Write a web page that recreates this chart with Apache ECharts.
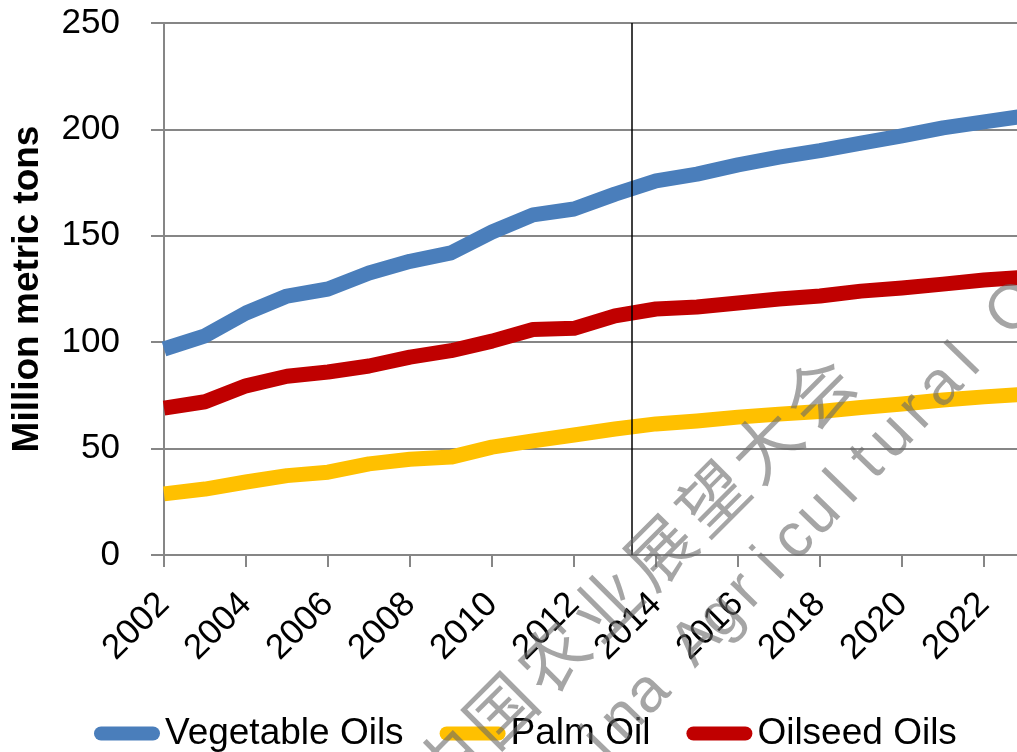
<!DOCTYPE html>
<html>
<head>
  <meta charset="UTF-8">
  <title>oils</title>
  <style>
    html, body { margin: 0; padding: 0; background: #fff; }
    #main { width: 1017px; height: 752px; }
  </style>
  <script src="https://cdn.jsdelivr.net/npm/echarts@6/dist/echarts.min.js"></script>
</head>
<body>
<div id="main"></div>
<script type="text/javascript">
  // data
  const years = [2002, 2003, 2004, 2005, 2006, 2007, 2008, 2009, 2010, 2011, 2012,
    2013, 2014, 2015, 2016, 2017, 2018, 2019, 2020, 2021, 2022, 2023];
  const vegetableOils = [96.8, 103, 113.7, 121.7, 125, 132.5, 138, 142, 151.8, 159.8, 162.6,
    169.6, 175.8, 179, 183.3, 187, 190, 193.6, 197, 200.7, 203.5, 206.3];
  const palmOil = [28.7, 31, 34.3, 37.3, 38.9, 42.8, 45, 46, 50.7, 53.6, 56.4,
    59.2, 61.6, 63, 64.8, 66.2, 67.4, 69.3, 71, 72.8, 74.3, 75.6];
  const oilseedOils = [69, 72, 79.5, 84, 86, 88.8, 93, 96, 100.5, 106, 106.5,
    112.4, 115.6, 116.5, 118.4, 120.3, 121.7, 124, 125.5, 127.3, 129.2, 130.6];
  const dividerYear = 2013.4;

  const font = 'Liberation Sans';
  const capsule = 'path://M7,0 L59,0 A7,7 0 0 1 59,14 L7,14 A7,7 0 0 1 7,0 Z';

  function pairs(vals) {
    return years.map(function (y, i) { return [y, vals[i]]; });
  }

  function lineSeries(name, color, vals) {
    return {
      name: name,
      type: 'line',
      data: pairs(vals),
      symbol: 'none',
      color: color,
      lineStyle: { width: 15, color: color, cap: 'butt', join: 'round' },
      animation: false
    };
  }

  // watermark, rotated text laid out letter by letter
  const wmColor = 'rgba(105,105,105,0.6)';
  const watermark = [];
  '中国农业展望大会'.split('').forEach(function (ch, i) {
    watermark.push({
      type: 'text', x: 447 + 53 * i, y: 763 - 53 * i, rotation: 0.785, z: 100, silent: true,
      style: {
        text: ch, fill: wmColor, fontSize: 68,
        fontFamily: 'Noto Sans CJK SC', align: 'center', verticalAlign: 'middle'
      }
    });
  });
  'China Agricultural Outlook'.split('').forEach(function (ch, i) {
    if (ch === ' ') return;
    const k = i - 6; // 'A' is the anchor letter
    watermark.push({
      type: 'text', x: 697 + 24.4 * k, y: 642 - 25.6 * k, rotation: 0.8, z: 100, silent: true,
      style: {
        text: ch, fill: wmColor, fontSize: 62,
        fontFamily: font, align: 'center', verticalAlign: 'middle'
      }
    });
  });

  const chart = echarts.init(document.getElementById('main'));
  const series = [
    lineSeries('Vegetable Oils', '#4A7EBB', vegetableOils),
    lineSeries('Palm Oil', '#FFC000', palmOil),
    lineSeries('Oilseed Oils', '#C00000', oilseedOils)
  ];
  series[2].markLine = {
    silent: true,
    symbol: ['none', 'none'],
    label: { show: false },
    lineStyle: { color: '#000', width: 1.5, type: 'solid' },
    data: [{ xAxis: dividerYear }],
    animation: false
  };

  chart.setOption({
    animation: false,
    grid: { left: 164, right: -8, top: 23, bottom: 197, containLabel: false, outerBoundsMode: 'none' },
    legend: {
      left: 94,
      top: 715,
      padding: 0,
      itemWidth: 66,
      itemHeight: 15,
      itemGap: 36,
      icon: capsule,
      textStyle: { fontFamily: font, fontSize: 37, color: '#000' },
      data: ['Vegetable Oils', 'Palm Oil', 'Oilseed Oils']
    },
    xAxis: {
      type: 'value',
      min: 2002,
      max: 2023,
      interval: 2,
      axisLine: { show: true, onZero: false, lineStyle: { color: '#868686', width: 2 } },
      axisTick: { show: true, length: 12, lineStyle: { color: '#868686', width: 2 } },
      splitLine: { show: false },
      axisLabel: {
        rotate: 45, margin: 44, fontFamily: font, fontSize: 35, color: '#000',
        showMaxLabel: false, formatter: function (v) { return String(v); }
      }
    },
    yAxis: {
      type: 'value',
      min: 0,
      max: 250,
      interval: 50,
      name: 'Million metric tons',
      nameLocation: 'middle',
      nameRotate: 90,
      nameGap: 118,
      nameTextStyle: { fontFamily: font, fontSize: 37, fontWeight: 'bold', color: '#000' },
      axisLine: { show: true, lineStyle: { color: '#868686', width: 2 } },
      axisTick: { show: true, length: 13, lineStyle: { color: '#868686', width: 2 } },
      splitLine: { show: true, lineStyle: { color: '#868686', width: 2 } },
      axisLabel: { margin: 44, fontFamily: font, fontSize: 35, color: '#000' }
    },
    series: series,
    graphic: watermark
  });
</script>
</body>
</html>
